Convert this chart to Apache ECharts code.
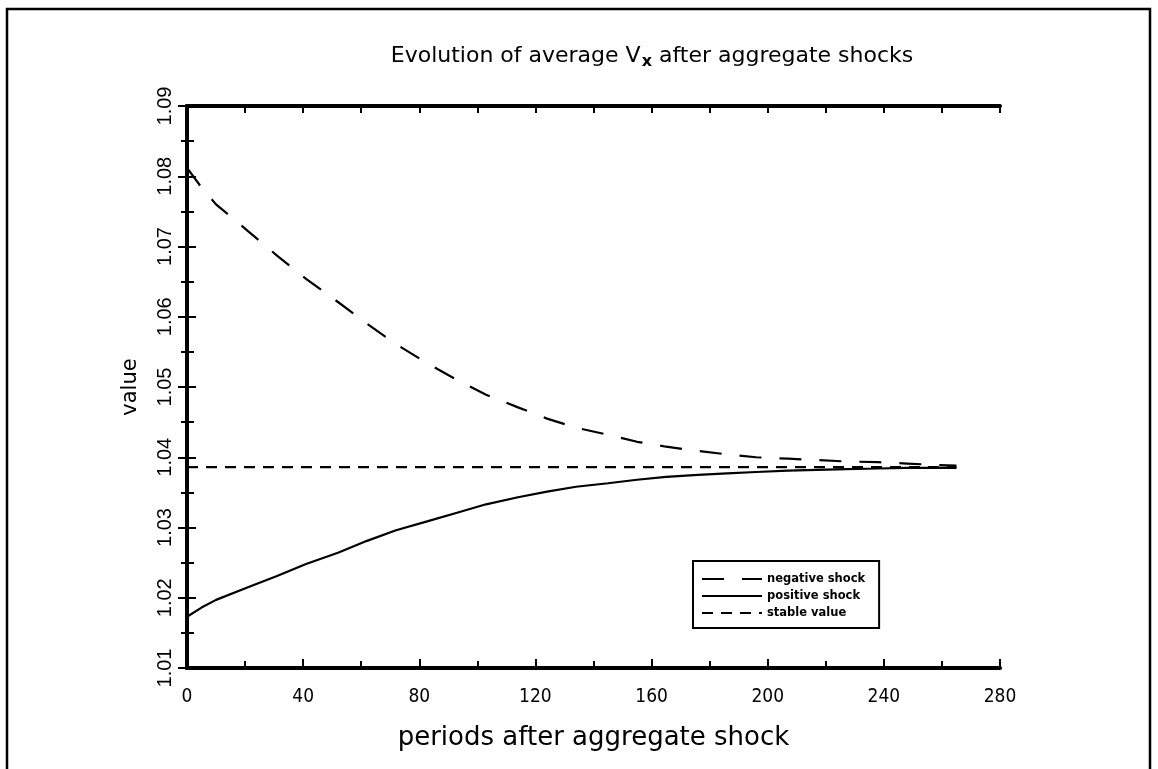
<!DOCTYPE html>
<html lang="en">
<head>
  <meta charset="UTF-8">
  <title>Evolution of average Vx after aggregate shocks</title>
  <style>
    html, body { margin: 0; padding: 0; background: #fff; }
    #main { width: 1158px; height: 769px; }
  </style>
</head>
<body>
  <div id="main"></div>
<script src="https://cdn.jsdelivr.net/npm/echarts@6/dist/echarts.min.js"></script>
<script>
  // periods after the shock
  var periods = [0, 5, 10, 21, 31, 41, 52, 62, 72, 83, 93, 103, 114, 124, 134, 145, 155, 165, 176, 186, 196, 207, 217, 227, 238, 248, 258, 265];
  var negShock = [1.0812, 1.0784, 1.0760, 1.0722, 1.0687, 1.0654, 1.0621, 1.0590, 1.0561, 1.0533, 1.0510, 1.0489, 1.0471, 1.0455, 1.0442, 1.0432, 1.0422, 1.0415, 1.0409, 1.0404, 1.0400, 1.0398, 1.0396, 1.0394, 1.0393, 1.0391, 1.0389, 1.0388];
  var posShock = [1.0173, 1.0186, 1.0197, 1.0215, 1.0231, 1.0248, 1.0264, 1.0281, 1.0296, 1.0309, 1.0321, 1.0333, 1.0343, 1.0351, 1.0358, 1.0363, 1.0368, 1.0372, 1.0375, 1.0377, 1.0379, 1.0381, 1.0382, 1.0383, 1.0384, 1.0385, 1.0385, 1.0385];
  var stableValue = 1.0386;
  var names = ['negative shock', 'positive shock', 'stable value'];

  function pairs(vals) {
    return periods.map(function (p, i) { return [p, vals[i]]; });
  }
  var stableData = [[periods[0], stableValue], [periods[periods.length - 1], stableValue]];

  var chart = echarts.init(document.getElementById('main'));

  var axisLine = { show: true, lineStyle: { color: '#000', width: 4 } };
  var tickFont = "'DejaVu Sans Condensed', 'Liberation Sans', sans-serif";

  var option = {
    backgroundColor: '#fff',
    animation: false,
    title: {
      text: '{a|Evolution of average V}{s|x}{a| after aggregate shocks}',
      left: 647,
      top: 37,
      textAlign: 'center',
      textStyle: {
        rich: {
          a: { fontFamily: 'DejaVu Sans', fontSize: 22, fontWeight: 'normal', color: '#000' },
          s: { fontFamily: 'DejaVu Sans', fontSize: 16, fontWeight: 'bold', color: '#000', padding: [12, 0, 0, 1] }
        }
      }
    },
    legend: {
      orient: 'vertical',
      left: 693,
      top: 561,
      padding: [12, 14, 9, 8],
      itemGap: 5,
      itemWidth: 60,
      itemHeight: 12,
      borderColor: '#000',
      borderWidth: 2,
      itemStyle: { opacity: 0 },
      data: names,
      textStyle: { fontFamily: 'DejaVu Sans', fontWeight: 'bold', fontSize: 11.5, color: '#000' }
    },
    graphic: [{
      type: 'rect',
      shape: { x: 7, y: 9, width: 1143, height: 780 },
      style: { fill: 'none', stroke: '#000', lineWidth: 2.5 },
      silent: true
    }],
    grid: { left: 187, top: 106, width: 813, height: 562 },
    xAxis: [{
      type: 'value',
      min: 0, max: 280, interval: 40,
      name: 'periods after aggregate shock',
      nameLocation: 'middle',
      nameGap: 57,
      nameTextStyle: { fontFamily: 'DejaVu Sans', fontSize: 26, color: '#000' },
      axisLine: axisLine,
      axisTick: { inside: true, length: 9, lineStyle: { color: '#000', width: 2 } },
      minorTick: { show: true, splitNumber: 2, length: 7, lineStyle: { color: '#000', width: 2 } },
      splitLine: { show: false },
      axisLabel: { fontFamily: tickFont, fontSize: 19, color: '#000', margin: 20 }
    }, {
      type: 'value', position: 'top',
      min: 0, max: 280, interval: 20,
      axisLine: axisLine,
      axisTick: { inside: true, length: 7, lineStyle: { color: '#000', width: 2 } },
      splitLine: { show: false },
      axisLabel: { show: false }
    }],
    yAxis: [{
      type: 'value',
      min: 1.01, max: 1.09, interval: 0.01,
      name: 'value',
      nameLocation: 'middle',
      nameGap: 46,
      nameTextStyle: { fontFamily: 'DejaVu Sans', fontSize: 21, color: '#000' },
      axisLine: axisLine,
      axisTick: { inside: true, length: 9, lineStyle: { color: '#000', width: 2 } },
      minorTick: { show: true, splitNumber: 2, length: 7, lineStyle: { color: '#000', width: 2 } },
      splitLine: { show: false },
      axisLabel: {
        rotate: 90, fontFamily: 'Liberation Sans', fontSize: 20, color: '#000', margin: 12,
        formatter: function (v) { return v.toFixed(2); }
      }
    }, {
      type: 'value', position: 'right',
      min: 1.01, max: 1.09, interval: 0.01,
      axisLine: axisLine,
      axisTick: { inside: true, length: 9, lineStyle: { color: '#000', width: 2 } },
      minorTick: { show: true, splitNumber: 2, length: 6, lineStyle: { color: '#000', width: 2 } },
      splitLine: { show: false },
      axisLabel: { show: false }
    }],
    series: [{
      name: names[0],
      type: 'line',
      data: pairs(negShock),
      symbol: 'none',
      lineStyle: { color: '#000', width: 2.2, type: [22, 18] }
    }, {
      name: names[1],
      type: 'line',
      data: pairs(posShock),
      symbol: 'none',
      lineStyle: { color: '#000', width: 2.2, type: 'solid' }
    }, {
      name: names[2],
      type: 'line',
      data: stableData,
      symbol: 'none',
      lineStyle: { color: '#000', width: 2.2, type: [11, 8] }
    }]
  };

  chart.setOption(option);
</script>
</body>
</html>
